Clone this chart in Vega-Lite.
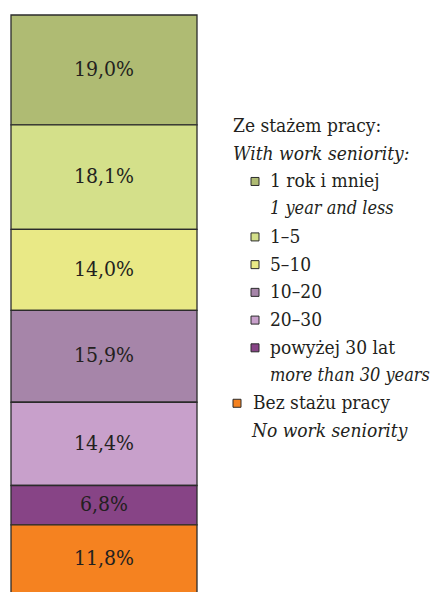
{
  "$schema": "https://vega.github.io/schema/vega-lite/v6.json",
  "padding": {"left": 10, "top": 14, "right": 0, "bottom": 0},
  "autosize": {"type": "pad"},
  "background": "white",
  "config": {
    "view": {"stroke": null},
    "font": "DejaVu Serif Condensed",
    "concat": {"spacing": 33}
  },
  "datasets": {
    "bar": [
      {"cat": "1 rok i mniej", "value": 19.0, "order": 7},
      {"cat": "1–5", "value": 18.1, "order": 6},
      {"cat": "5–10", "value": 14.0, "order": 5},
      {"cat": "10–20", "value": 15.9, "order": 4},
      {"cat": "20–30", "value": 14.4, "order": 3},
      {"cat": "powyżej 30 lat", "value": 6.8, "order": 2},
      {"cat": "Bez stażu pracy", "value": 11.8, "order": 1}
    ],
    "legend": [
      {"line": "Ze stażem pracy:", "kind": "header", "lang": "pl", "cat": null},
      {"line": "With work seniority:", "kind": "header", "lang": "en", "cat": null},
      {"line": "1 rok i mniej", "kind": "seniority", "lang": "pl", "cat": "1 rok i mniej"},
      {"line": "1 year and less", "kind": "seniority", "lang": "en", "cat": null},
      {"line": "1–5", "kind": "seniority", "lang": "pl", "cat": "1–5"},
      {"line": "5–10", "kind": "seniority", "lang": "pl", "cat": "5–10"},
      {"line": "10–20", "kind": "seniority", "lang": "pl", "cat": "10–20"},
      {"line": "20–30", "kind": "seniority", "lang": "pl", "cat": "20–30"},
      {"line": "powyżej 30 lat", "kind": "seniority", "lang": "pl", "cat": "powyżej 30 lat"},
      {"line": "more than 30 years", "kind": "seniority", "lang": "en", "cat": null},
      {"line": "Bez stażu pracy", "kind": "none", "lang": "pl", "cat": "Bez stażu pracy"},
      {"line": "No work seniority", "kind": "none", "lang": "en", "cat": null}
    ]
  },
  "hconcat": [
    {
      "width": 186,
      "height": 578,
      "data": {"name": "bar"},
      "transform": [
        {"stack": "value", "groupby": [], "sort": [{"field": "order", "order": "ascending"}], "as": ["v0", "v1"]},
        {"calculate": "(datum.v0 + datum.v1) / 2", "as": "mid"},
        {"calculate": "replace(format(datum.value, '.1f'), '.', ',') + '%'", "as": "label"}
      ],
      "encoding": {
        "x": {"datum": "ogółem", "type": "nominal", "axis": null, "scale": {"paddingInner": 0, "paddingOuter": 0}}
      },
      "layer": [
        {
          "mark": {"type": "bar", "stroke": "#2b2b2b", "strokeWidth": 1.3},
          "encoding": {
            "y": {"field": "v0", "type": "quantitative", "scale": {"domain": [0, 100], "nice": false}, "axis": null},
            "y2": {"field": "v1"},
            "color": {
              "field": "cat",
              "type": "nominal",
              "legend": null,
              "scale": {
                "domain": ["1 rok i mniej", "1–5", "5–10", "10–20", "20–30", "powyżej 30 lat", "Bez stażu pracy"],
                "range": ["#afbb73", "#d4e08a", "#e9e986", "#a685a9", "#c8a0cb", "#874486", "#f58220"]
              }
            }
          }
        },
        {
          "mark": {"type": "text", "font": "DejaVu Serif Condensed", "fontSize": 21, "color": "#231f20", "baseline": "middle"},
          "encoding": {
            "y": {"field": "mid", "type": "quantitative"},
            "text": {"field": "label"}
          }
        }
      ]
    },
    {
      "width": 202,
      "height": 578,
      "data": {"name": "legend"},
      "encoding": {
        "y": {
          "field": "line",
          "type": "ordinal",
          "axis": null,
          "sort": null,
          "scale": {
            "type": "point",
            "padding": 0,
            "range": [111, 416],
            "domain": ["Ze stażem pracy:", "With work seniority:", "1 rok i mniej", "1 year and less", "1–5", "5–10", "10–20", "20–30", "powyżej 30 lat", "more than 30 years", "Bez stażu pracy", "No work seniority"]
          }
        }
      },
      "layer": [
        {
          "transform": [{"filter": "isValid(datum.cat) && datum.kind == 'seniority'"}],
          "mark": {"type": "square", "size": 64, "filled": true, "stroke": "#2b2b2b", "strokeWidth": 1, "opacity": 1},
          "encoding": {
            "x": {"value": 19},
            "color": {"field": "cat", "type": "nominal", "legend": null,
              "scale": {
                "domain": ["1 rok i mniej", "1–5", "5–10", "10–20", "20–30", "powyżej 30 lat", "Bez stażu pracy"],
                "range": ["#afbb73", "#d4e08a", "#e9e986", "#a685a9", "#c8a0cb", "#874486", "#f58220"]
              }
            }
          }
        },
        {
          "transform": [{"filter": "isValid(datum.cat) && datum.kind == 'none'"}],
          "mark": {"type": "square", "size": 64, "filled": true, "stroke": "#2b2b2b", "strokeWidth": 1, "opacity": 1},
          "encoding": {
            "x": {"value": 1},
            "color": {"field": "cat", "type": "nominal", "legend": null}
          }
        },
        {
          "transform": [{"filter": "datum.kind == 'header' && datum.lang == 'pl'"}],
          "mark": {"type": "text", "font": "DejaVu Serif Condensed", "fontSize": 19, "color": "#231f20", "align": "left", "baseline": "middle"},
          "encoding": {"x": {"value": -3}, "text": {"field": "line"}}
        },
        {
          "transform": [{"filter": "datum.kind == 'header' && datum.lang == 'en'"}],
          "mark": {"type": "text", "font": "DejaVu Serif Condensed", "fontSize": 19, "fontStyle": "italic", "color": "#231f20", "align": "left", "baseline": "middle"},
          "encoding": {"x": {"value": -3}, "text": {"field": "line"}}
        },
        {
          "transform": [{"filter": "datum.kind == 'seniority' && datum.lang == 'pl'"}],
          "mark": {"type": "text", "font": "DejaVu Serif Condensed", "fontSize": 19, "color": "#231f20", "align": "left", "baseline": "middle"},
          "encoding": {"x": {"value": 34}, "text": {"field": "line"}}
        },
        {
          "transform": [{"filter": "datum.kind == 'seniority' && datum.lang == 'en'"}],
          "mark": {"type": "text", "font": "DejaVu Serif Condensed", "fontSize": 18, "fontStyle": "italic", "color": "#231f20", "align": "left", "baseline": "middle"},
          "encoding": {"x": {"value": 34}, "text": {"field": "line"}}
        },
        {
          "transform": [{"filter": "datum.kind == 'none' && datum.lang == 'pl'"}],
          "mark": {"type": "text", "font": "DejaVu Serif Condensed", "fontSize": 19, "color": "#231f20", "align": "left", "baseline": "middle"},
          "encoding": {"x": {"value": 17}, "text": {"field": "line"}}
        },
        {
          "transform": [{"filter": "datum.kind == 'none' && datum.lang == 'en'"}],
          "mark": {"type": "text", "font": "DejaVu Serif Condensed", "fontSize": 19, "fontStyle": "italic", "color": "#231f20", "align": "left", "baseline": "middle"},
          "encoding": {"x": {"value": 16}, "text": {"field": "line"}}
        }
      ]
    }
  ]
}
